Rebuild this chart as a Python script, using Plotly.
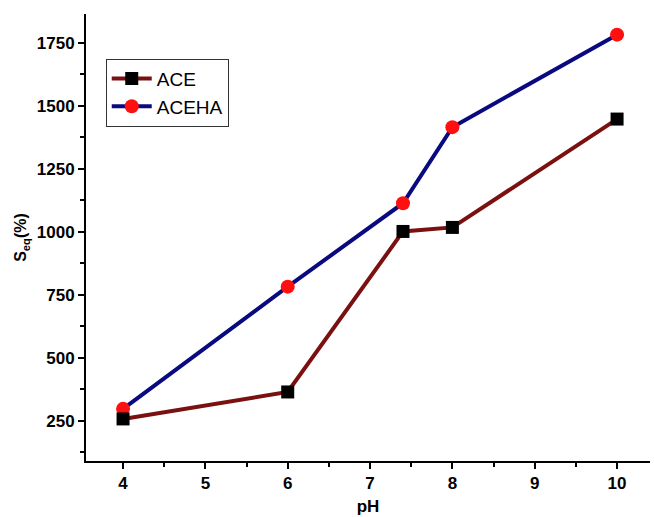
import plotly.graph_objects as go

ph = [4, 6, 7.4, 8, 10]
ace = [258, 365, 1002, 1018, 1448]
aceha = [298, 783, 1114, 1416, 1783]

fig = go.Figure()
fig.add_trace(go.Scatter(x=ph, y=aceha, name="ACEHA", mode="lines+markers",
                         line=dict(color="#0a0a80", width=4),
                         marker=dict(symbol="circle", size=14, color="#ff1010")))
fig.add_trace(go.Scatter(x=ph, y=ace, name="ACE", mode="lines+markers",
                         line=dict(color="#7a1010", width=4),
                         marker=dict(symbol="square", size=13, color="black")))

tf = dict(family="Liberation Sans", size=17, color="black", weight="bold")
fig.update_layout(
    width=654, height=517,
    margin=dict(l=86, r=4, t=14, b=56),
    plot_bgcolor="white", paper_bgcolor="white",
    showlegend=True,
    legend=dict(x=0.035, y=0.9, xanchor="left", yanchor="top",
                bordercolor="#333", borderwidth=1, bgcolor="white",
                traceorder="reversed",
                font=dict(family="Liberation Sans", size=19, color="black"),
                itemwidth=40, tracegroupgap=0),
    xaxis=dict(range=[3.55, 10.4], tickvals=[4, 5, 6, 7, 8, 9, 10],
               showgrid=False, zeroline=False, showline=True, linecolor="black", linewidth=2,
               ticks="outside", ticklen=6, tickwidth=2, tickcolor="black",
               minor=dict(dtick=0.5, tick0=4, ticks="outside", ticklen=4, tickwidth=2, tickcolor="black"),
               tickfont=tf,
               title=dict(text="<b>pH</b>", font=dict(family="Liberation Sans", size=17, color="black"), standoff=8)),
    yaxis=dict(range=[91, 1865], tickvals=[250, 500, 750, 1000, 1250, 1500, 1750],
               showgrid=False, zeroline=False, showline=True, linecolor="black", linewidth=2,
               ticks="outside", ticklen=6, tickwidth=2, tickcolor="black",
               minor=dict(dtick=125, tick0=0, ticks="outside", ticklen=4, tickwidth=2, tickcolor="black"),
               tickfont=tf,
               title=dict(text="<b>S<sub>eq</sub>(%)</b>", font=dict(family="Liberation Sans", size=16, color="black"), standoff=6)),
)
fig.write_html("out.html")
